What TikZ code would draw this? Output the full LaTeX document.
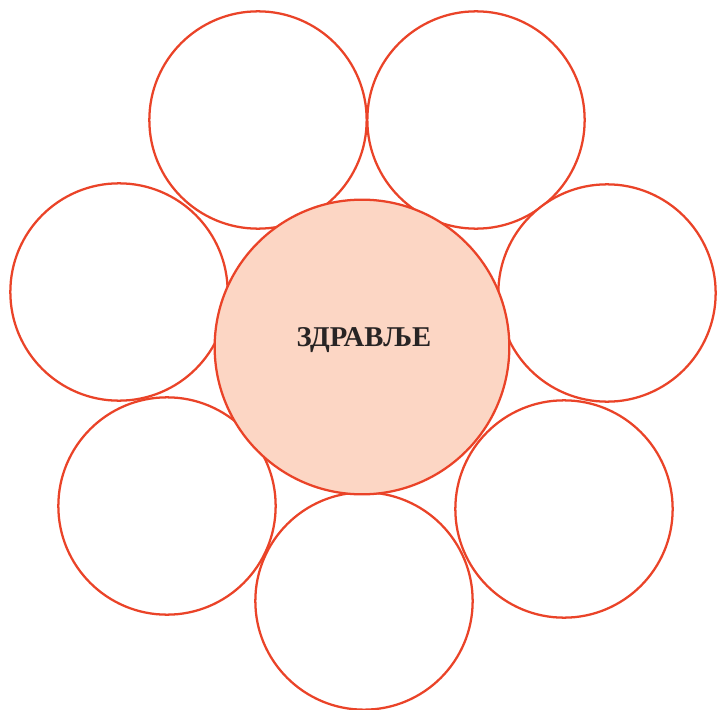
\documentclass[tikz,border=0pt]{standalone}
\usepackage{fontspec}
\setmainfont{Liberation Serif}
\usetikzlibrary{positioning}
\definecolor{ringred}{RGB}{234,67,40}
\definecolor{peach}{RGB}{252,214,196}
\definecolor{inkdark}{RGB}{40,36,36}
\tikzset{
  petal/.style={circle, draw=ringred, line width=1.7pt, fill=white, minimum size=163pt, inner sep=0pt},
  hub/.style={circle, draw=ringred, line width=1.7pt, fill=peach, minimum size=221pt, inner sep=0pt,
    font=\fontsize{21.5}{24}\selectfont\bfseries, text=inkdark},
}

\begin{document}
\begin{tikzpicture}[x=0.75pt, y=-0.75pt]

  % frame
  \useasboundingbox (0,0) rectangle (718,710);

  % outer circles
  \node[petal] (topleft)     at (258,120) {};
  \node[petal] (topright)    at (476,120) {};
  \node[petal] (left)        at (119,292) {};
  \node[petal] (right)       at (607,293) {};
  \node[petal] (bottomleft)  at (167,506) {};
  \node[petal] (bottomright) at (564,509) {};
  \node[petal] (bottom)      at (364,601) {};

  % centre
  \node[hub] (health) at (362,347) {};
  \node[text=inkdark, font=\fontsize{21.5}{24}\selectfont\bfseries] (label) at (364,340) {ЗДРАВЉЕ};

\end{tikzpicture}
\end{document}
